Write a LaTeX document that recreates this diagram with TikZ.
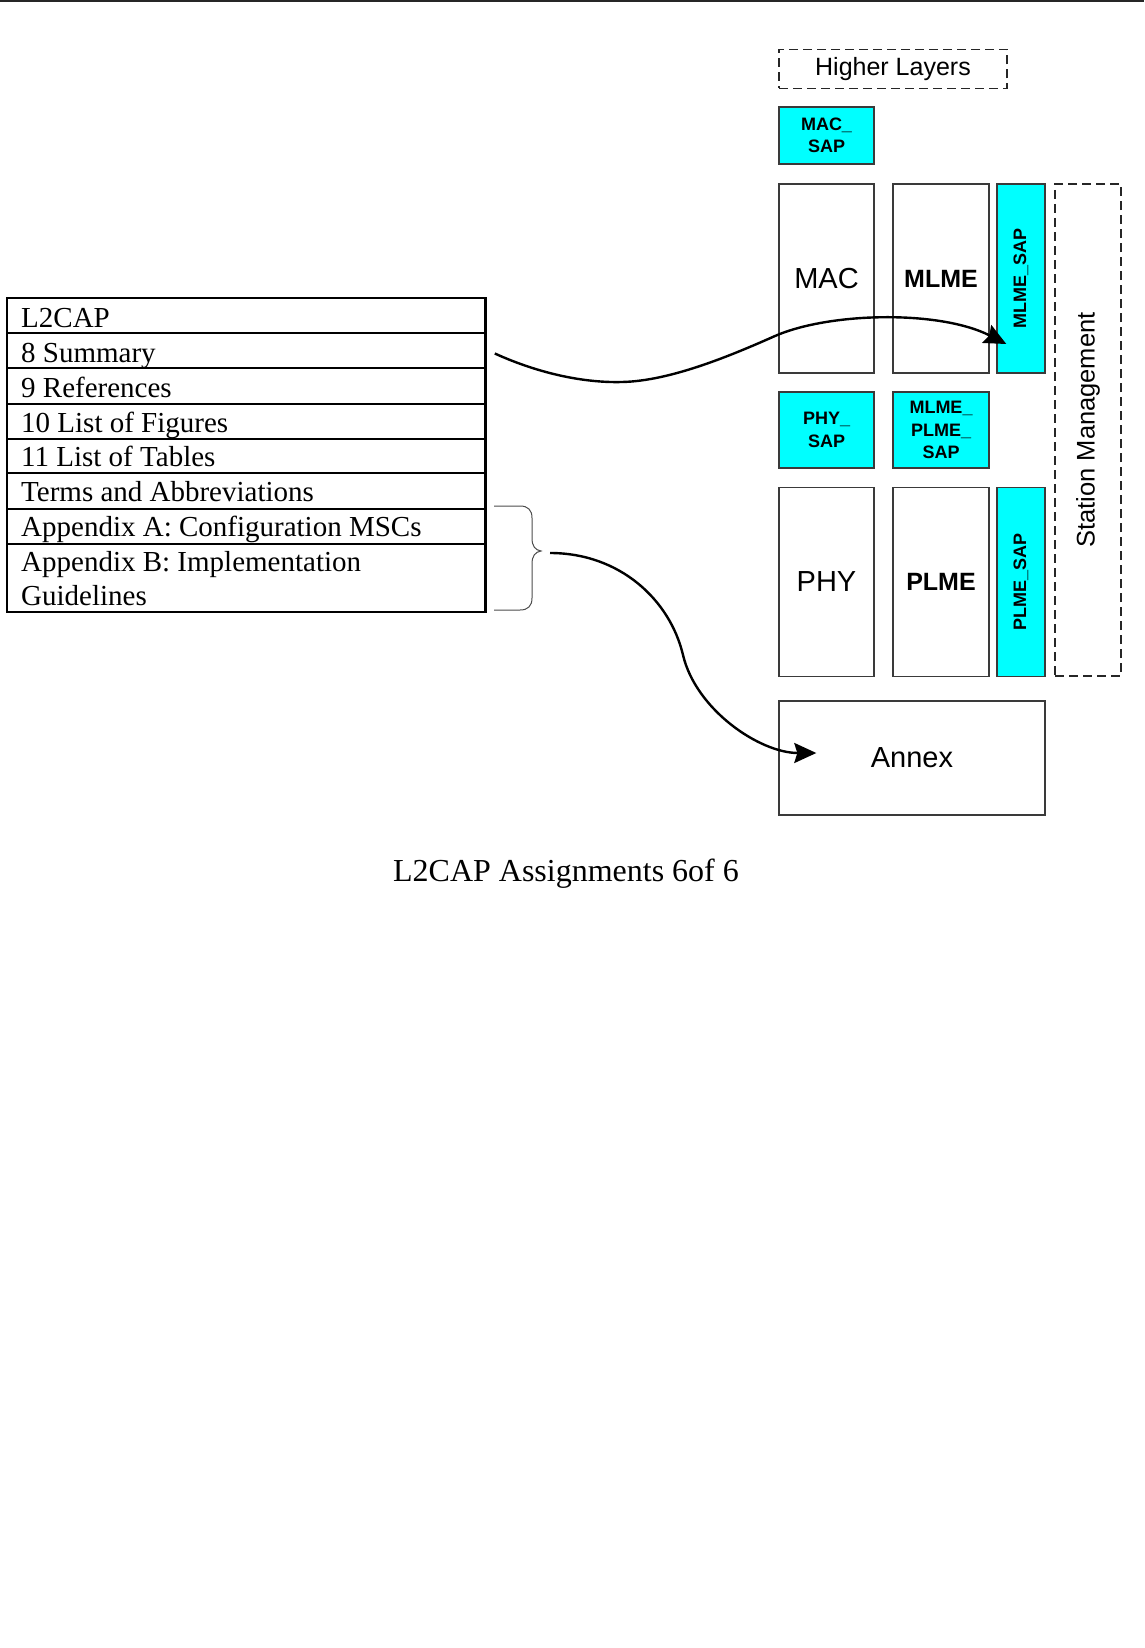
\documentclass[tikz,border=0pt]{standalone}
\usepackage{fontspec}
\setmainfont{Liberation Serif}
\newfontfamily\arial{Liberation Sans}
\usetikzlibrary{arrows.meta,calc}
\definecolor{cyanc}{HTML}{00FFFF}
\definecolor{edge}{HTML}{3A3A3A}
\begin{document}
\begin{tikzpicture}[x=1pt,y=-1pt,
  box/.style={draw=edge, line width=1.4pt, fill=white, inner sep=0pt,
    font=\arial\fontsize{29}{34}\selectfont},
  boldbox/.style={box, font=\arial\bfseries\fontsize{25}{30}\selectfont},
  sapbox/.style={box, fill=cyanc, align=center,
    font=\arial\bfseries\fontsize{18}{22.5}\selectfont},
  dashbox/.style={draw=black!85, line width=1.4pt, dash pattern=on 9pt off 5pt, inner sep=0pt,
    font=\arial\fontsize{25}{30}\selectfont},
  rowbox/.style={draw=black, line width=1.6pt, minimum width=478pt, inner sep=0pt},
  rowtext/.style={anchor=base west, inner sep=0pt, font=\fontsize{29}{34}\selectfont},
  conn/.style={line width=2.4pt, black, -{Stealth[length=22pt,width=20pt,inset=3pt]}},
  bracestyle/.style={line width=1pt, black!70}
]
\useasboundingbox (0,0) rectangle (1144,1648);
% top rule
\draw[line width=2pt, black!85] (0,1) -- (1144,1);

% right-hand stack
\node[dashbox, minimum width=228pt, minimum height=39pt] (hl) at (893,69) {Higher Layers};
\node[sapbox, minimum width=95pt, minimum height=57pt] (macsap) at (826.5,135.5) {MAC\_\\SAP};
\node[box, minimum width=95pt, minimum height=189pt] (mac) at (826.5,278.5) {MAC};
\node[boldbox, minimum width=96pt, minimum height=189pt] (mlme) at (941,278.5) {MLME};
\node[sapbox, minimum width=48pt, minimum height=189pt] (mlmesap) at (1021,278.5) {\rotatebox{90}{MLME\_SAP}};
\node[dashbox, minimum width=66pt, minimum height=492pt] (sm) at (1088,430)
  {\rotatebox{90}{\fontsize{25.5}{30}\selectfont Station Management}};
\node[sapbox, minimum width=95pt, minimum height=76pt] (physap) at (826.5,430) {PHY\_\\SAP};
\node[sapbox, minimum width=96pt, minimum height=76pt] (mpsap) at (941,430) {MLME\_\\PLME\_\\SAP};
\node[box, minimum width=95pt, minimum height=189pt] (phy) at (826.5,582) {PHY};
\node[boldbox, minimum width=96pt, minimum height=189pt] (plme) at (941,582) {PLME};
\node[sapbox, minimum width=48pt, minimum height=189pt] (plmesap) at (1021,582) {\rotatebox{90}{PLME\_SAP}};
\node[box, minimum width=266pt, minimum height=114pt] (annex) at (912,758) {Annex};

% left table
\node[rowbox, minimum height=35pt] (r1) at (246,315.5) {};
\node[rowbox, minimum height=35pt] (r2) at (246,350.5) {};
\node[rowbox, minimum height=36pt] (r3) at (246,386) {};
\node[rowbox, minimum height=35pt] (r4) at (246,421.5) {};
\node[rowbox, minimum height=34pt] (r5) at (246,456) {};
\node[rowbox, minimum height=36pt] (r6) at (246,491) {};
\node[rowbox, minimum height=35pt] (r7) at (246,526.5) {};
\node[rowbox, minimum height=68pt] (r8) at (246,578) {};
\draw[line width=3pt, black] (r1.north east) -- (r8.south east);
\node[rowtext] (t1) at (21,327) {L2CAP};
\node[rowtext] (t2) at (21,362) {8 Summary};
\node[rowtext] (t3) at (21,397) {9 References};
\node[rowtext] (t4) at (21,432) {10 List of Figures};
\node[rowtext] (t5) at (21,466) {11 List of Tables};
\node[rowtext] (t6) at (21,501) {Terms and Abbreviations};
\node[rowtext] (t7) at (21,536) {Appendix A: Configuration MSCs};
\node[rowtext] (t8) at (21,571) {Appendix B: Implementation};
\node[rowtext] (t9) at (21,605) {Guidelines};

% brace
\draw[bracestyle] (494,506) -- (520,506) .. controls (528,506) and (532,510) .. (532,518)
  -- (532,538) .. controls (532,546) and (535,550) .. (541,551)
  .. controls (535,552) and (532,556) .. (532,564)
  -- (532,598) .. controls (532,606) and (528,610) .. (520,610) -- (494,610);

% connectors
\coordinate (c1s) at ($(r2.east)+(9,3)$);
\coordinate (c1e) at ($(mlmesap.west)+(10,65.5)$);
\draw[conn] (c1s) .. controls (540,374) and (585,383) .. (622,382)
  .. controls (670,381) and (730,356) .. (775,336)
  .. controls (830,312) and (940,310) .. (c1e);
\coordinate (c2s) at (550,553);
\coordinate (c2e) at ($(annex.west)+(38,-5)$);
\draw[conn] (c2s) .. controls (620,553) and (670,600) .. (683,655)
  .. controls (696,710) and (760,753) .. (c2e);

% caption
\node[anchor=base, inner sep=0pt, font=\fontsize{32}{38}\selectfont] (cap) at (566,881) {L2CAP Assignments 6of 6};
\end{tikzpicture}
\end{document}
